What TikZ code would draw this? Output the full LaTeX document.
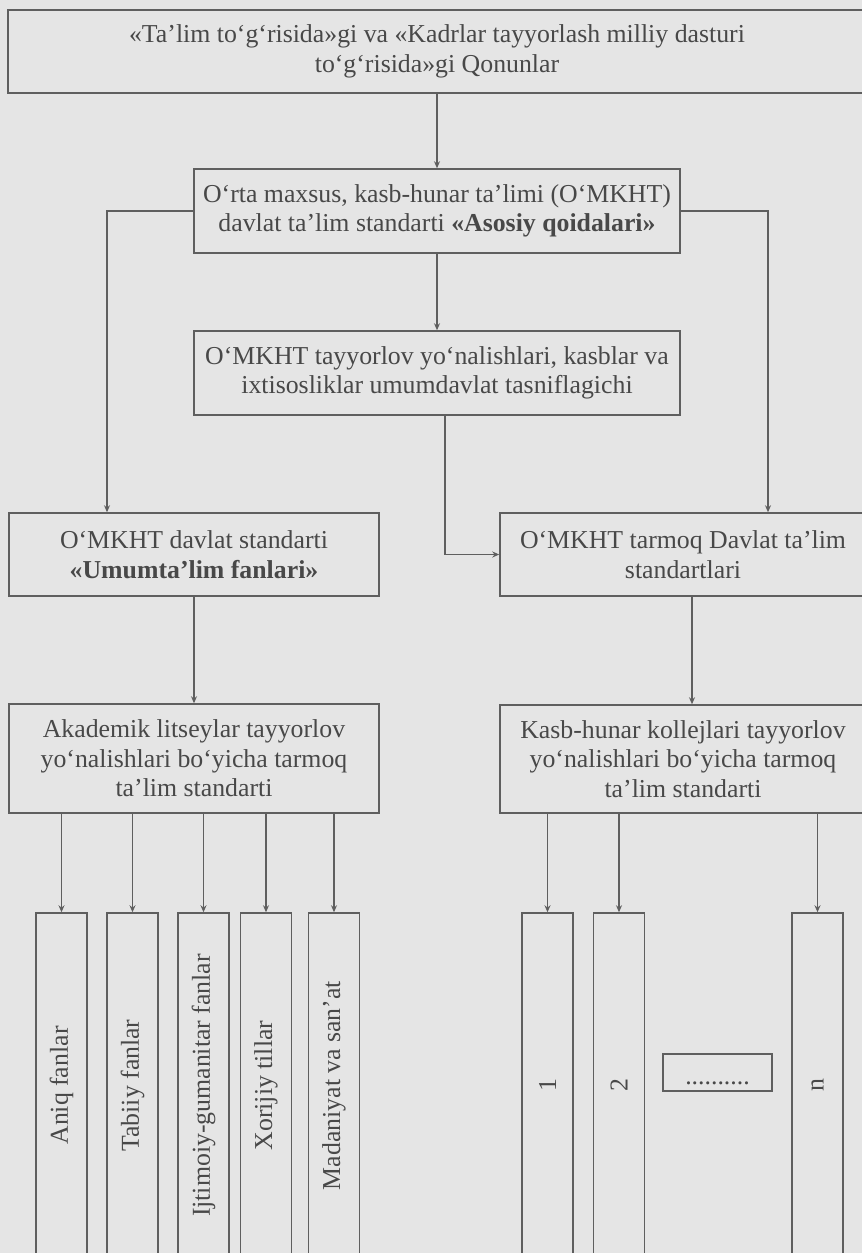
\documentclass[tikz,border=0pt]{standalone}
\usepackage{fontspec}
\setmainfont{Liberation Serif}
\usetikzlibrary{arrows.meta}
\definecolor{bgcol}{RGB}{229,229,229}
\definecolor{linecol}{RGB}{95,95,95}
\definecolor{txtcol}{RGB}{72,72,72}

\begin{document}
\begin{tikzpicture}[x=1pt, y=-1pt,
    box/.style={draw=linecol, line width=1.5pt, align=center, inner sep=0pt,
        text=txtcol, font=\fontsize{25.8}{29.5}\selectfont},
    col/.style={box, minimum width=51pt, minimum height=345pt},
    conn/.style={draw=linecol, line width=1.5pt, -{Stealth[length=7pt, width=6pt]}}]
    \useasboundingbox (0,0) rectangle (862,1253);
    \clip (0,0) rectangle (862,1253);
    \fill[bgcol] (0,0) rectangle (862,1253);

    \node[box, minimum width=858pt, minimum height=83pt] (law) at (437,51.5)
        {«Ta’lim to‘g‘risida»gi va «Kadrlar tayyorlash milliy dasturi\\to‘g‘risida»gi Qonunlar};
    \node[box, minimum width=486pt, minimum height=84pt] (main) at (437,211)
        {O‘rta maxsus, kasb-hunar ta’limi (O‘MKHT)\\davlat ta’lim standarti \textbf{«Asosiy qoidalari»}};
    \node[box, minimum width=486pt, minimum height=84pt] (classif) at (437,373)
        {O‘MKHT tayyorlov yo‘nalishlari, kasblar va\\ixtisosliklar umumdavlat tasniflagichi};
    \node[box, minimum width=370pt, minimum height=83pt] (general) at (194,554.5)
        {O‘MKHT davlat standarti\\\textbf{«Umumta’lim fanlari»}};
    \node[box, minimum width=366pt, minimum height=83pt] (branch) at (683,554.5)
        {O‘MKHT tarmoq Davlat ta’lim\\standartlari};
    \node[box, minimum width=370pt, minimum height=109pt] (lyceum) at (194,758.5)
        {Akademik litseylar tayyorlov\\yo‘nalishlari bo‘yicha tarmoq\\ta’lim standarti};
    \node[box, minimum width=366pt, minimum height=108pt] (college) at (683,759)
        {Kasb-hunar kollejlari tayyorlov\\yo‘nalishlari bo‘yicha tarmoq\\ta’lim standarti};

    % fanlar
    \node[col] (aniq) at (61.5,1085.5) {\rotatebox{90}{Aniq fanlar}};
    \node[col] (tabiiy) at (132.5,1085.5) {\rotatebox{90}{Tabiiy fanlar}};
    \node[col] (ijtimoiy) at (203.5,1085.5) {\rotatebox{90}{Ijtimoiy-gumanitar fanlar}};
    \node[col] (xorijiy) at (266,1085.5) {\rotatebox{90}{Xorijiy tillar}};
    \node[col] (madaniyat) at (334,1085.5) {\rotatebox{90}{Madaniyat va san’at}};

    % kasblar
    \node[col] (k1) at (547.5,1085.5) {\rotatebox{90}{1}};
    \node[col] (k2) at (619,1085.5) {\rotatebox{90}{2}};
    \node[box, minimum width=109pt, minimum height=37pt, text height=24pt, text depth=0pt]
        (dots) at (717.5,1072.5) {..........};
    \node[col] (kn) at (817.5,1085.5) {\rotatebox{90}{n}};

    \draw[conn] (law) -- (main);
    \draw[conn] (main) -- (classif);
    \draw[conn] (main.west) -| ([xshift=-87pt]general.north);
    \draw[conn] (main.east) -| ([xshift=85pt]branch.north);
    \draw[conn] ([xshift=8pt]classif.south) |- (branch.west);
    \draw[conn] (general) -- (lyceum);
    \draw[conn] ([xshift=9pt]branch.south) -- ([xshift=9pt]college.north);

    \draw[conn] (lyceum.south -| aniq.north) -- (aniq.north);
    \draw[conn] (lyceum.south -| tabiiy.north) -- (tabiiy.north);
    \draw[conn] (lyceum.south -| ijtimoiy.north) -- (ijtimoiy.north);
    \draw[conn] (lyceum.south -| xorijiy.north) -- (xorijiy.north);
    \draw[conn] (lyceum.south -| madaniyat.north) -- (madaniyat.north);
    \draw[conn] (college.south -| k1.north) -- (k1.north);
    \draw[conn] (college.south -| k2.north) -- (k2.north);
    \draw[conn] (college.south -| kn.north) -- (kn.north);
\end{tikzpicture}
\end{document}
